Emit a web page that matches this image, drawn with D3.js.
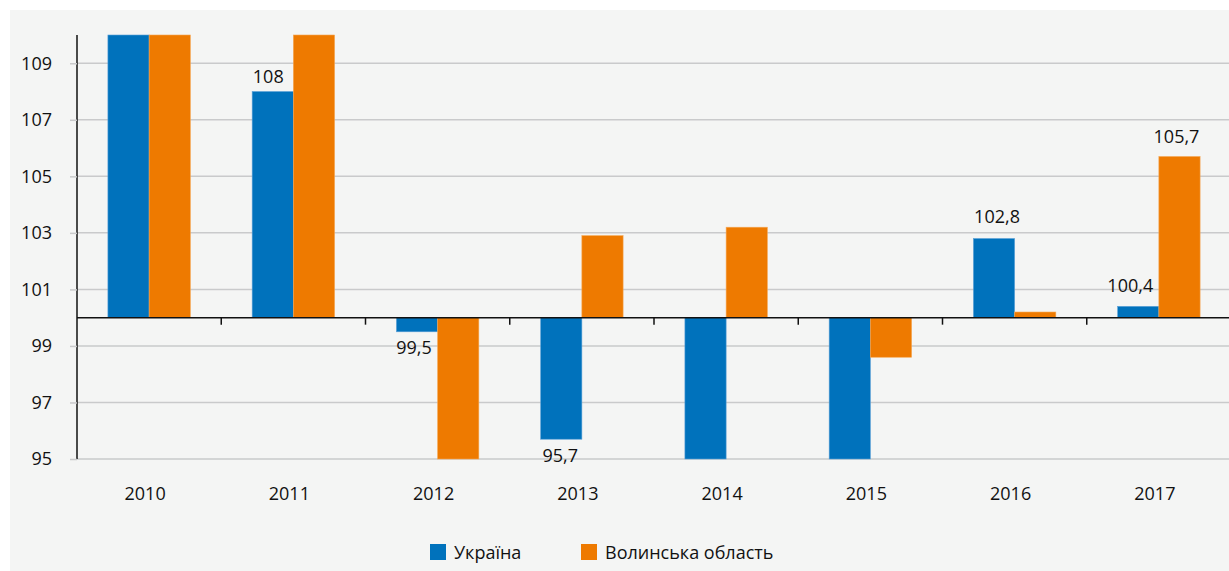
<!DOCTYPE html>
<html>
<head>
<meta charset="utf-8">
<script src="https://cdn.jsdelivr.net/npm/d3@7"></script>
<style>
  body { margin: 0; background: #fff; }
  text { font-family: "Open Sans", sans-serif; fill: #111; }
</style>
</head>
<body>
<div id="chart"></div>
<script>
"use strict";

// data
var years = ["2010", "2011", "2012", "2013", "2014", "2015", "2016", "2017"];
var ukraine = [110.4, 108, 99.5, 95.7, 89.9, 87.0, 102.8, 100.4];
var volyn = [112.0, 111.5, 93.0, 102.9, 103.2, 98.6, 100.2, 105.7];
var ukraineLabels = [null, "108", "99,5", "95,7", null, null, "102,8", "100,4"];
var volynLabels = [null, null, null, null, null, null, null, "105,7"];
var yTicks = [95, 97, 99, 101, 103, 105, 107, 109];
var seriesNames = ["Україна", "Волинська область"];
var colors = ["#0072bc", "#ee7a00"];

// label nudges (px) as placed in the original
var nudgeX = [[0, 0], [-4.5, 0], [-3, 0], [-1, 0], [0, 0], [0, 0], [3, 0], [-8, -3]];
var gapAbove = [[9, 9], [9, 9], [9, 9], [9, 9], [9, 9], [9, 9], [16, 9], [14, 14]];

var width = 1229, height = 571;
var margin = {top: 35, right: -2, bottom: 112, left: 77};
var innerW = width - margin.left - margin.right,
    innerH = height - margin.top - margin.bottom;

var svg = d3.select("#chart").append("svg")
  .attr("width", width)
  .attr("height", height);

// panel background
svg.append("rect")
  .attr("x", 10).attr("y", 10)
  .attr("width", width - 10).attr("height", height - 10)
  .attr("fill", "#f4f5f4");

var g = svg.append("g")
  .attr("transform", "translate(" + margin.left + "," + margin.top + ")");

var x = d3.scaleBand().domain(years).range([0, innerW]).paddingInner(0).paddingOuter(0);
var x1 = d3.scaleBand().domain([0, 1]).range([0, x.bandwidth()]).paddingInner(0).paddingOuter(0.75);
var y = d3.scaleLinear().domain([95, 110]).range([innerH, 0]);

function clampV(v) { return Math.max(95, Math.min(110, v)); }

// gridlines
g.selectAll(".grid").data(yTicks).enter().append("line")
  .attr("x1", 0).attr("x2", innerW + 5)
  .attr("y1", function(d) { return y(d); })
  .attr("y2", function(d) { return y(d); })
  .attr("stroke", "#c9cacb").attr("stroke-width", 1.5);

// y axis
var yAxis = g.append("g")
  .call(d3.axisLeft(y).tickValues(yTicks).tickSize(7).tickPadding(18).tickFormat(d3.format("d")));
yAxis.select(".domain").attr("stroke", "#111").attr("stroke-width", 1.5).attr("d", "M0," + y(95) + "V0");
yAxis.selectAll(".tick line").attr("stroke", "#c9cacb").attr("stroke-width", 1.5);
yAxis.selectAll(".tick text").style("font-size", "18px").attr("fill", "#111");

// bars
var data = years.map(function(yr, i) {
  return {year: yr, i: i, vals: [ukraine[i], volyn[i]], labels: [ukraineLabels[i], volynLabels[i]]};
});

var groups = g.selectAll(".grp").data(data).enter().append("g")
  .attr("transform", function(d) { return "translate(" + x(d.year) + ",0)"; });

groups.each(function(d) {
  var sel = d3.select(this);
  d.vals.forEach(function(v, j) {
    var cv = clampV(v);
    sel.append("rect")
      .attr("x", x1(j))
      .attr("width", x1.bandwidth())
      .attr("y", y(Math.max(cv, 100)))
      .attr("height", Math.abs(y(cv) - y(100)))
      .attr("fill", colors[j])
      .attr("stroke", j === 0 ? "#5aa0d8" : "#f5a650")
      .attr("stroke-width", 0.6);
    if (d.labels[j]) {
      var above = v >= 100;
      sel.append("text")
        .attr("x", x1(j) + x1.bandwidth() / 2 + nudgeX[d.i][j])
        .attr("y", above ? y(v) - gapAbove[d.i][j] : y(v) + 22.5)
        .attr("text-anchor", "middle")
        .style("font-size", "18px")
        .text(d.labels[j]);
    }
  });
});

// x axis at 100
var xAxisG = g.append("g").attr("transform", "translate(0," + y(100) + ")");
xAxisG.append("line")
  .attr("x1", 0).attr("x2", innerW + 5)
  .attr("stroke", "#111").attr("stroke-width", 1.5);
xAxisG.selectAll(".xt").data(years.slice(1)).enter().append("line")
  .attr("x1", function(d) { return x(d); })
  .attr("x2", function(d) { return x(d); })
  .attr("y1", 0).attr("y2", 7)
  .attr("stroke", "#111").attr("stroke-width", 1.5);

// category labels
g.selectAll(".xl").data(years).enter().append("text")
  .attr("x", function(d) { return x(d) + x.bandwidth() / 2 - 4; })
  .attr("y", innerH + 41)
  .attr("text-anchor", "middle")
  .style("font-size", "18px")
  .text(function(d) { return d; });

// legend
var legendX = [430, 581];
var legend = svg.selectAll(".leg").data(seriesNames).enter().append("g")
  .attr("transform", function(d, i) { return "translate(" + legendX[i] + ",544)"; });
legend.append("rect").attr("width", 16).attr("height", 16)
  .attr("fill", function(d, i) { return colors[i]; });
legend.append("text").attr("x", 24).attr("y", 15)
  .style("font-size", "18px")
  .text(function(d) { return d; });
</script>
</body>
</html>
